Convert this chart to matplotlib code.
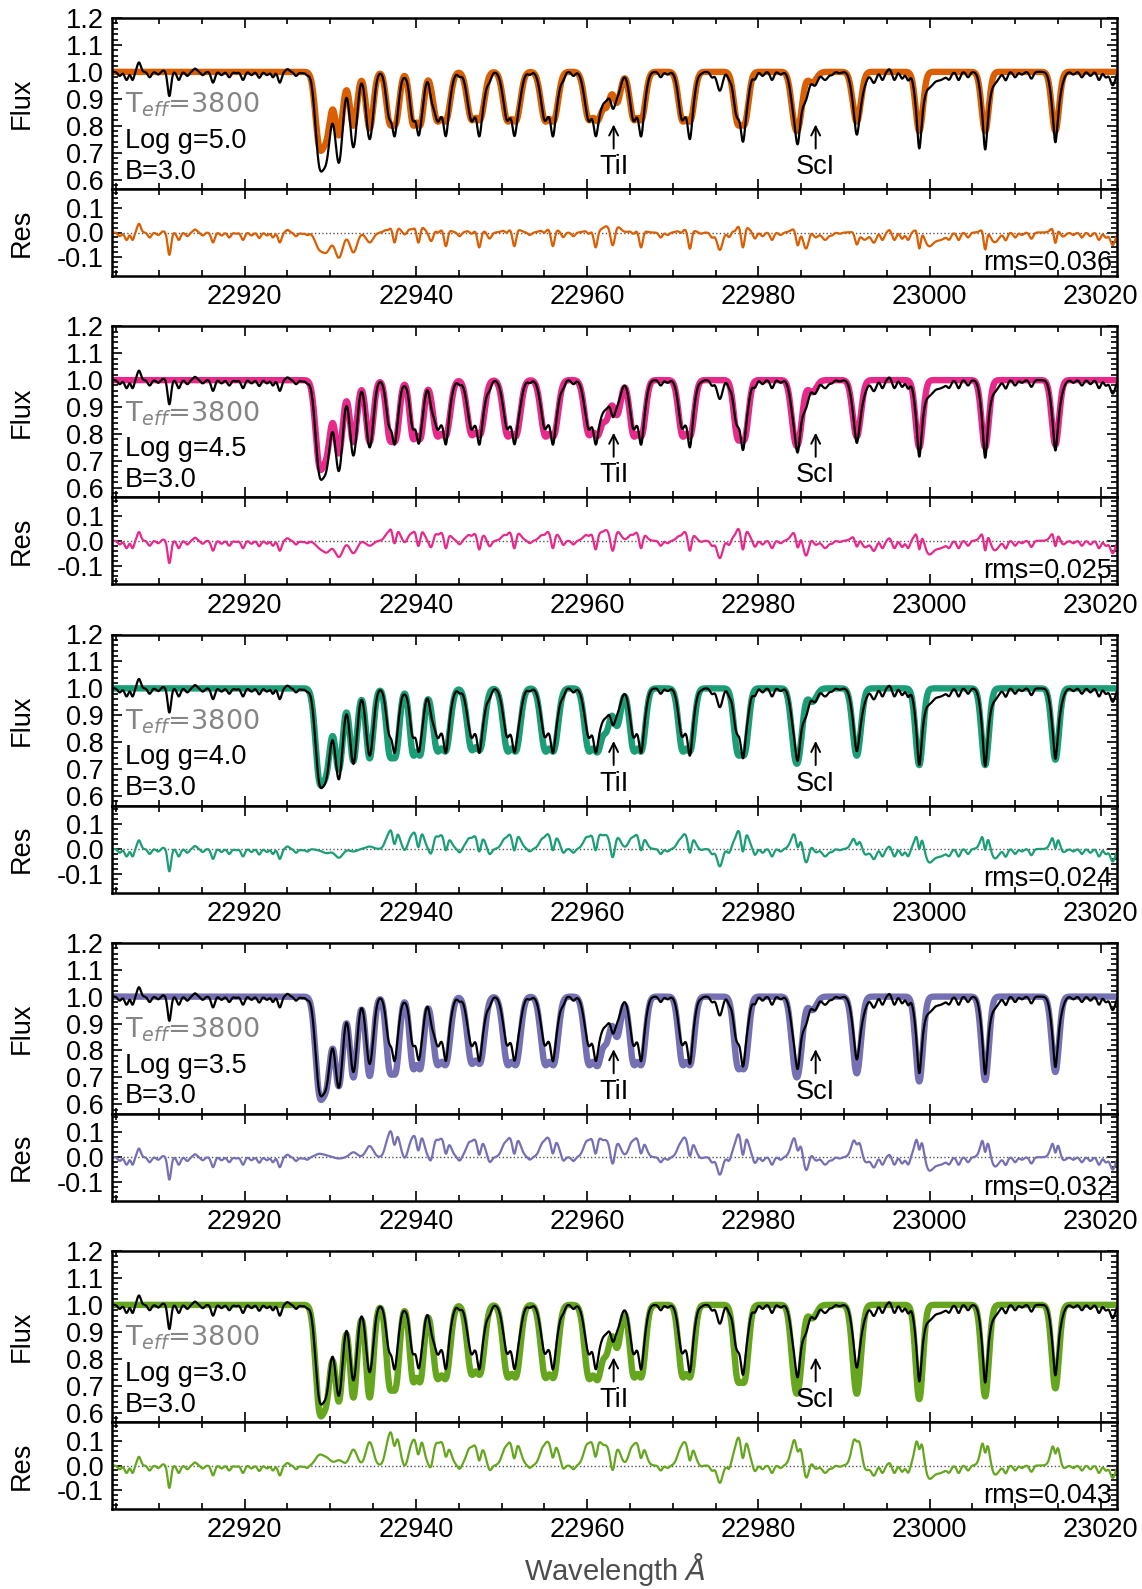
import matplotlib.pyplot as plt
import numpy as np
from matplotlib.ticker import MultipleLocator

plt.rcParams["font.family"] = ["Liberation Sans", "DejaVu Sans"]
plt.rcParams["mathtext.fontset"] = "dejavusans"

# ---- data ----
logg_labels = ["5.0", "4.5", "4.0", "3.5", "3.0"]
rms_labels = ["0.036", "0.025", "0.024", "0.032", "0.043"]
model_colors = ["#d95f02", "#e7298a", "#1b9e77", "#7570b3", "#66a61e"]

# absorption troughs (centre, width, split of the blended pair), in Angstrom
trough_wave = [22928.7, 22929.6, 22931.0, 22932.7, 22934.6, 22937.3, 22940.1,
               22943.0, 22947.0, 22951.2, 22955.6, 22960.7, 22962.9, 22965.9,
               22971.6, 22978.0, 22984.5, 22986.3, 22991.5, 22998.8, 23006.5,
               23014.7]
trough_width = [0.65, 0.65, 0.65, 0.6, 0.6, 0.55, 0.55, 0.68, 0.68, 0.68, 0.68,
                0.68, 0.6, 0.62, 0.62, 0.6, 0.6, 0.7, 0.6, 0.6, 0.6, 0.6]
trough_split = [0, 0, 0, 0, 0, 0.8, 0.9, 1.1, 1.1, 1.1, 1.1, 1.1, 1.2, 1.0,
                1.0, 0.9, 0.6, 0, 0.4, 0, 0, 0]

# model depth of each trough, one list per log g
depth_g50 = [0.25, 0.21, 0.234, 0.20, 0.21, 0.20, 0.20, 0.185, 0.18, 0.185, 0.185,
             0.18, 0.115, 0.18, 0.185, 0.20, 0.22, 0.04, 0.185, 0.22, 0.22, 0.22]
depth_g45 = [0.285, 0.237, 0.27, 0.23, 0.23, 0.23, 0.22, 0.21, 0.205, 0.21, 0.21,
             0.205, 0.13, 0.21, 0.21, 0.225, 0.245, 0.045, 0.21, 0.25, 0.25, 0.24]
depth_g40 = [0.306, 0.264, 0.30, 0.27, 0.26, 0.26, 0.25, 0.235, 0.23, 0.235, 0.235,
             0.235, 0.14, 0.235, 0.235, 0.25, 0.28, 0.05, 0.25, 0.285, 0.285, 0.265]
depth_g35 = [0.323, 0.286, 0.33, 0.30, 0.295, 0.29, 0.27, 0.255, 0.25, 0.255, 0.255,
             0.255, 0.15, 0.255, 0.255, 0.27, 0.30, 0.05, 0.285, 0.315, 0.31, 0.28]
depth_g30 = [0.349, 0.307, 0.356, 0.344, 0.344, 0.319, 0.288, 0.276, 0.26, 0.27,
             0.272, 0.276, 0.16, 0.27, 0.27, 0.29, 0.33, 0.05, 0.33, 0.35, 0.34, 0.31]
model_depths = [depth_g50, depth_g45, depth_g40, depth_g35, depth_g30]

# observed spectrum: trough depths plus narrow features (negative = bump)
obs_trough_depth = [0.31, 0.28, 0.335, 0.28, 0.25, 0.17, 0.17, 0.17, 0.17, 0.17,
                    0.17, 0.17, 0.09, 0.17, 0.17, 0.17, 0.20, 0.0, 0.18, 0.20,
                    0.20, 0.19]
obs_wave = [22905.4, 22906.2, 22906.9, 22907.65, 22908.9, 22909.9, 22910.5,
            22911.2, 22912.3, 22913.3, 22914.2, 22915.1, 22916.3, 22917.3,
            22918.2, 22919.0, 22919.8, 22920.8, 22921.7, 22922.6, 22923.3,
            22924.1, 22925.0, 22926.0, 22926.7, 22927.3,
            22936.8, 22937.5, 22938.7, 22939.6, 22940.3, 22941.8, 22942.6,
            22943.5, 22945.1, 22946.5, 22947.4, 22948.6, 22950.6, 22951.5,
            22953.3, 22955.0, 22956.0, 22957.2, 22958.4, 22960.2, 22961.0,
            22963.0, 22965.4, 22966.3,
            22968.6, 22969.4, 22971.0, 22972.0, 22973.3, 22974.6, 22975.5,
            22976.6, 22977.3, 22978.2, 22979.6, 22980.5, 22981.6, 22982.6,
            22984.6, 22985.6, 22986.6, 22987.8, 22988.6, 22989.5,
            22991.5, 22992.4, 22993.5, 22994.5, 22995.3, 22995.9, 22996.8,
            22997.5, 22998.8, 22999.9, 23001.2, 23002.3, 23003.4, 23004.5,
            23006.5, 23007.6, 23008.9, 23010.0, 23010.8, 23011.9,
            23014.7, 23015.5, 23016.8, 23017.8, 23018.8, 23019.8, 23020.6,
            23021.4]
obs_width = [0.3, 0.3, 0.25, 0.3, 0.3, 0.3, 0.3,
             0.28, 0.3, 0.3, 0.3, 0.3, 0.3, 0.3,
             0.3, 0.3, 0.3, 0.3, 0.3, 0.3, 0.25,
             0.3, 0.3, 0.3, 0.3, 0.3,
             0.3, 0.3, 0.3, 0.3, 0.3, 0.35, 0.3,
             0.3, 0.3, 0.3, 0.3, 0.35, 0.3, 0.3,
             0.3, 0.3, 0.3, 0.3, 0.3, 0.3, 0.3,
             0.35, 0.3, 0.3,
             0.3, 0.3, 0.3, 0.3, 0.3, 0.3, 0.45,
             0.3, 0.3, 0.3, 0.3, 0.3, 0.3, 0.3,
             0.3, 0.5, 0.5, 0.5, 0.3, 0.3,
             0.3, 0.6, 0.4, 0.3, 0.25, 0.3, 0.3,
             0.3, 0.25, 0.7, 1.0, 0.3, 0.3, 0.3,
             0.25, 0.7, 0.3, 0.3, 0.3, 0.3,
             0.25, 0.5, 0.3, 0.3, 0.3, 0.3, 0.3,
             0.4]
obs_depth = [0.015, 0.03, 0.03, -0.035, 0.02, 0.01, -0.005,
             0.09, 0.03, 0.015, -0.012, 0.012, 0.04, 0.012,
             0.02, 0.005, 0.03, 0.012, 0.022, 0.012, 0.02,
             0.04, -0.01, 0.015, 0.005, 0.01,
             0.015, 0.07, 0.01, 0.015, 0.07, 0.04, 0.015,
             0.07, 0.015, 0.015, 0.07, 0.025, 0.015, 0.07,
             0.01, 0.015, 0.07, 0.02, 0.015, 0.015, 0.07,
             0.07, 0.015, 0.07,
             0.02, 0.01, 0.015, 0.08, 0.005, 0.02, 0.07,
             0.02, 0.015, 0.09, 0.025, 0.015, 0.03, 0.01,
             0.07, 0.08, 0.05, 0.03, 0.01, 0.005,
             0.05, 0.03, 0.04, 0.03, -0.01, 0.03, 0.025,
             0.03, 0.08, 0.05, 0.03, 0.02, 0.03, 0.02,
             0.085, 0.04, 0.03, 0.02, 0.01, 0.025,
             0.07, 0.02, 0.01, 0.02, 0.015, 0.03, 0.02,
             0.05]

# ---- build spectra ----
wave = np.arange(22904.5, 23021.95, 0.02)


def profile(grid, centre, width, split=0.0):
    if split:
        g = (np.exp(-((grid - centre + split / 2) / width) ** 2)
             + np.exp(-((grid - centre - split / 2) / width) ** 2))
        return g / g.max()
    return np.exp(-((grid - centre) / width) ** 2)


troughs = [profile(wave, c, w, s) for c, w, s in zip(trough_wave, trough_width, trough_split)]

obs_flux = np.ones_like(wave)
for d, g in zip(obs_trough_depth, troughs):
    obs_flux -= d * g
for c, w, d in zip(obs_wave, obs_width, obs_depth):
    obs_flux -= d * profile(wave, c, w)

models = []
for depths in model_depths:
    flux = np.ones_like(wave)
    for d, g in zip(depths, troughs):
        flux -= d * g
    models.append(flux)

# ---- figure ----
W, H = 1142, 1589
fig = plt.figure(figsize=(W / 100, H / 100), dpi=100)

left, right = 112, 1117
top0, step, h_flux, h_res = 18, 308.25, 171, 87
fs = 19.5

for k in range(5):
    top = top0 + step * k
    ax = fig.add_axes([left / W, 1 - (top + h_flux) / H, (right - left) / W, h_flux / H])
    axr = fig.add_axes([left / W, 1 - (top + h_flux + h_res) / H, (right - left) / W, h_res / H],
                       sharex=ax)
    col = model_colors[k]

    ax.plot(wave, models[k], color=col, lw=4.6)
    ax.plot(wave, obs_flux, color="black", lw=1.6)
    ax.set_ylim(0.565, 1.2)
    ax.set_xlim(22904.5, 23021.9)

    resid = obs_flux - models[k]
    axr.axhline(0, color="#555555", ls=":", lw=1.0)
    axr.plot(wave, resid, color=col, lw=1.6)
    axr.set_ylim(-0.175, 0.175)

    for a in (ax, axr):
        a.xaxis.set_major_locator(MultipleLocator(20))
        a.xaxis.set_minor_locator(MultipleLocator(5))
        a.yaxis.set_major_locator(MultipleLocator(0.1))
        a.yaxis.set_minor_locator(MultipleLocator(0.02))
        a.tick_params(which="both", direction="in", top=True, right=True,
                      labelsize=fs, width=1.2)
        a.tick_params(which="major", length=7, pad=6)
        a.tick_params(which="minor", length=4)
        for sp in a.spines.values():
            sp.set_linewidth(1.8)
    ax.tick_params(labelbottom=False)
    ax.yaxis.set_major_formatter(plt.FormatStrFormatter("%.1f"))
    axr.yaxis.set_major_formatter(plt.FormatStrFormatter("%.1f"))
    axr.set_yticks([-0.1, 0.0, 0.1])
    axr.xaxis.set_major_formatter(plt.FormatStrFormatter("%d"))

    ax.text(0.013, 0.445, r"T$_{eff}$=3800", transform=ax.transAxes,
            fontsize=fs, color="#858585", va="baseline", family="DejaVu Sans")
    ax.text(0.013, 0.24, "Log g=" + logg_labels[k], transform=ax.transAxes,
            fontsize=fs, va="baseline")
    ax.text(0.013, 0.06, "B=3.0", transform=ax.transAxes,
            fontsize=fs, va="baseline")

    for lam, name in ((22963.1, "TiI"), (22986.7, "ScI")):
        ax.annotate("", xy=(lam, 0.815), xytext=(lam, 0.705),
                    arrowprops=dict(arrowstyle="->", lw=1.4, color="black",
                                    mutation_scale=16))
        ax.text(lam, 0.62, name, fontsize=fs, ha="center", va="baseline")

    axr.text(0.995, 0.07, "rms=" + rms_labels[k], transform=axr.transAxes,
             fontsize=fs, ha="right", va="baseline")

    fig.text(22 / W, 1 - (top + h_flux / 2) / H, "Flux", rotation=90,
             fontsize=fs, ha="center", va="center")
    fig.text(22 / W, 1 - (top + h_flux + h_res / 2) / H, "Res", rotation=90,
             fontsize=fs, ha="center", va="center")

fig.text((left + right) / 2 / W, 1 - 1569 / H, r"Wavelength $Å$",
         fontsize=21, color="#4d4d4d", ha="center", va="center")

fig.savefig("out.png", dpi=100)
